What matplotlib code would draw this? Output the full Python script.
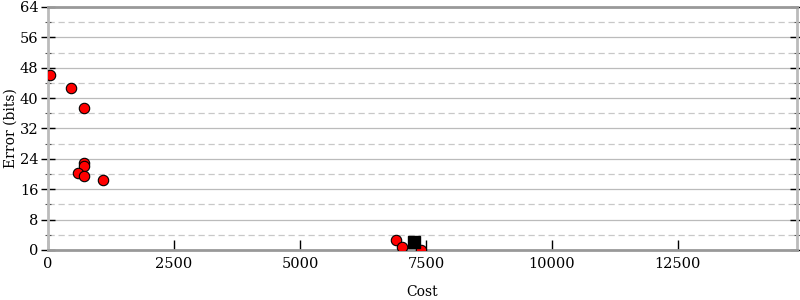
import numpy as np
import matplotlib.pyplot as plt
from matplotlib.ticker import MultipleLocator

# Data
cost = [40, 456, 714, 714, 714, 595, 714, 1091, 6905, 7024, 7401]
error_bits = [46.1, 42.7, 37.4, 22.9, 22.1, 20.3, 19.5, 18.4, 2.6, 0.8, 0.0]
best_cost = [7262]
best_error = [2.1]

plt.rcParams['font.family'] = ['DejaVu Serif']
plt.rcParams['font.size'] = 10.5

fig = plt.figure(figsize=(8, 3), dpi=100)
ax = fig.add_axes([0.06, 0.1667, 0.936, 0.81])

# Grid
ax.set_axisbelow(True)
ax.yaxis.set_major_locator(MultipleLocator(8))
ax.yaxis.set_minor_locator(MultipleLocator(4))
ax.grid(True, which='major', axis='y', color='#bbbbbb', linewidth=0.9, linestyle='-')
ax.grid(True, which='minor', axis='y', color='#c8c8c8', linewidth=0.9, linestyle=(0, (5, 3)))

# Points
ax.plot(cost, error_bits, 'o', color='red', markeredgecolor='black',
        markeredgewidth=0.8, markersize=7.5, linestyle='none', zorder=3)
ax.plot(best_cost, best_error, 's', color='black', markersize=8,
        linestyle='none', zorder=3)

# Axes limits and ticks
ax.set_xlim(0, 14860)
ax.set_ylim(0, 64)
ax.set_xticks([0, 2500, 5000, 7500, 10000, 12500])
ax.tick_params(axis='x', which='both', direction='in', length=7, top=False,
               color='black', width=1, pad=5)
ax.tick_params(axis='y', which='major', direction='inout', length=10,
               right=True, left=True, color='black', width=1, pad=2)
ax.tick_params(axis='y', which='minor', direction='inout', length=5,
               right=True, left=True, color='#555555', width=0.8)

for side in ['left', 'right']:
    ax.spines[side].set_color('#bbbbbb')
    ax.spines[side].set_linewidth(2)
for side in ['top', 'bottom']:
    ax.spines[side].set_color('#999999')
    ax.spines[side].set_linewidth(2)

ax.set_xlabel('Cost', labelpad=10, fontsize=10)
ax.set_ylabel('Error (bits)', fontsize=10)
ax.yaxis.set_label_coords(-0.041, 0.5)

fig.savefig('out.png', dpi=100)
